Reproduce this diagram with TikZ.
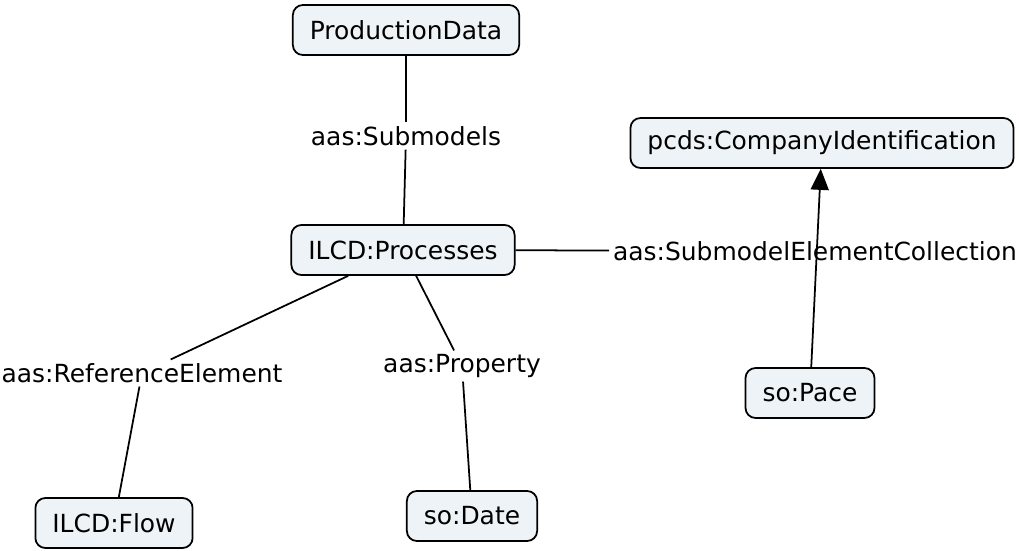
\documentclass[tikz,border=0pt]{standalone}
\usepackage{fontspec}
\setmainfont{DejaVu Sans}
\usetikzlibrary{arrows.meta}
\definecolor{conceptfill}{HTML}{EDF3F6}
\begin{document}
\begin{tikzpicture}[x=0.02cm,y=-0.02cm]
        \tikzstyle{concept}=[rectangle,rounded corners=0.2cm,draw=black,line width=1pt,fill=conceptfill,minimum height=1cm,inner xsep=0.34cm,font=\fontsize{14.2}{17}\selectfont]
        \tikzstyle{phrase}=[inner sep=2pt,font=\fontsize{14.2}{17}\selectfont]
        \tikzstyle{edge}=[draw, line width=1pt]
        \useasboundingbox (0,0) rectangle (1019,551);
       \begin{scope}
         \node [concept] (prod) at (406,30) {ProductionData};
         \node [concept] (proc) at (403,250) {ILCD:Processes};
         \node [concept] (comp) at (822,143) {pcds:CompanyIdentification};
         \node [concept] (pace) at (810,393) {so:Pace};
         \node [concept] (flow) at (114,523) {ILCD:Flow};
         \node [concept] (date) at (472,516) {so:Date};
         \node [phrase] (submodels) at (406,136) {aas:Submodels};
         \node [phrase] (refelem) at (142,373) {aas:ReferenceElement};
         \node [phrase] (property) at (462,366) {aas:Property};
         \node [phrase] (collection) at (815,251) {aas:SubmodelElementCollection};
         \path[edge] (prod) edge (submodels);
         \path[edge] (submodels) edge (proc);
         \path[edge] (proc) edge (refelem);
         \path[edge] (refelem) edge (flow);
         \path[edge] (proc) edge (property);
         \path[edge] (property) edge (date);
         \path[edge] (proc) edge (collection);
         \path[edge] (pace) edge [-{Triangle[width=0.36cm,length=0.42cm]}] (comp);
        \end{scope}
      \end{tikzpicture}
\end{document}
